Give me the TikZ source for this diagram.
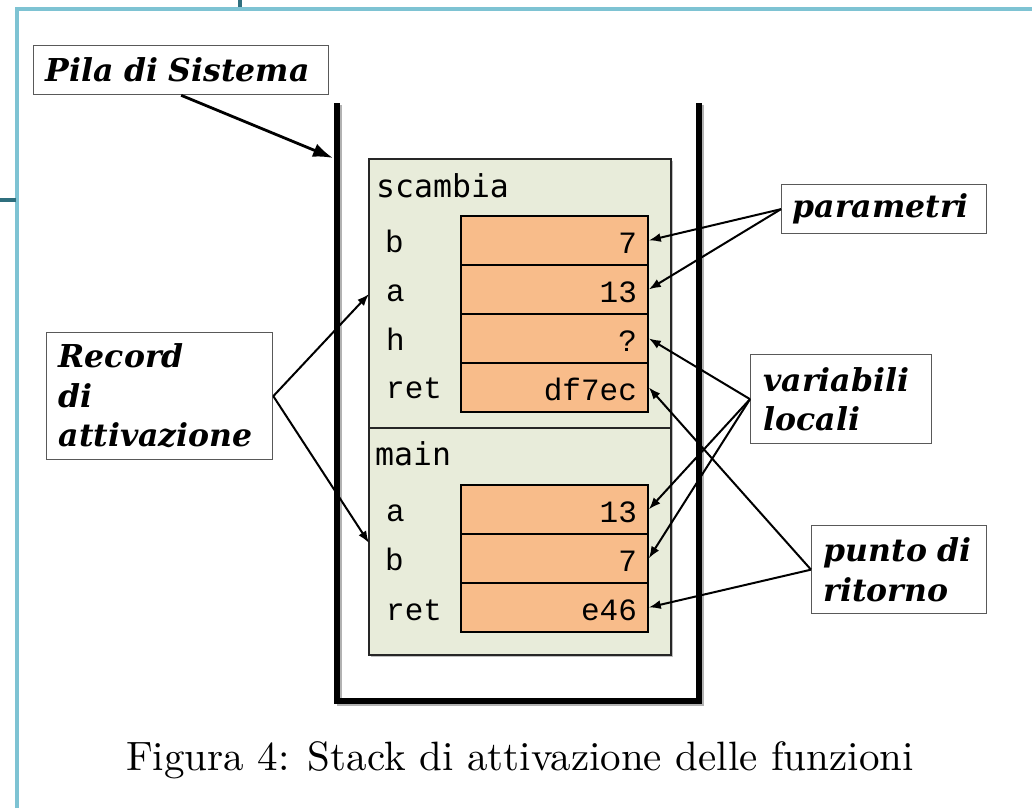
\documentclass[tikz,border=0pt]{standalone}
\usepackage{fontspec}
\newfontfamily\callfont{DejaVu Serif}
\newfontfamily\codefont{Liberation Mono}
\newfontfamily\headfont{DejaVu Sans Mono}
\newfontfamily\capfont{lmroman10-regular.otf}
\usetikzlibrary{arrows.meta}
\definecolor{framecol}{HTML}{7EC3D3}
\definecolor{tickcol}{HTML}{2F6F7E}
\definecolor{recfill}{HTML}{E8ECDA}
\definecolor{cellfill}{HTML}{F8BC8A}
\begin{document}
\begin{tikzpicture}[x=1pt,y=-1pt,
  callout/.style={draw=black!65, line width=1.3pt, fill=white, anchor=north west,
    inner ysep=0pt, align=left,
    font=\callfont\bfseries\itshape\fontsize{31.5}{39.5}\selectfont},
  recframe/.style={draw=black!85, line width=1.6pt, fill=recfill, anchor=north west, inner sep=0pt},
  cell/.style={draw=black, line width=1.8pt, fill=cellfill, anchor=north west,
    minimum height=49pt, text width=165pt, inner xsep=11pt, inner ysep=0pt,
    align=right, text height=26pt, text depth=0pt,
    font=\codefont\fontsize{31}{31}\selectfont},
  varname/.style={anchor=base west, inner sep=0pt, font=\codefont\fontsize{31}{31}\selectfont},
  head/.style={anchor=base west, inner sep=0pt, font=\headfont\fontsize{31.5}{31.5}\selectfont},
  stackwall/.style={line width=5.5pt, line join=miter},
  thinarrow/.style={line width=2pt, -{Latex[length=12pt,width=9pt]}},
  bigarrow/.style={line width=2.8pt, -{Latex[length=20pt,width=14pt]}},
]
\useasboundingbox (0,0) rectangle (1032,808);

% page frame and its marks
\draw[framecol, line width=3.6pt] (17,808) -- (17,9) -- (1032,9);
\draw[tickcol, line width=4pt] (240,0) -- (240,7.5);
\draw[tickcol, line width=4pt] (0,200) -- (15.5,200);

% activation records (with a soft shadow)
\fill[black!25] (371,161) rectangle (673,657);
\node[recframe, minimum width=302pt, minimum height=269pt] (fs) at (368,158) {};
\node[recframe, minimum width=302pt, minimum height=227pt] (fm) at (368,427) {};

% the stack walls
\draw[stackwall, black!30] (339.5,105) -- (339.5,703.5) -- (701.5,703.5) -- (701.5,105);
\draw[stackwall] (337,103) -- (337,701) -- (699,701) -- (699,103);

% record "scambia"
\node[head] (hs) at (376,197) {scambia};
\node[cell] (s1) at (460,215) {7};
\node[cell] (s2) at (460,264) {13};
\node[cell] (s3) at (460,313) {?};
\node[cell] (s4) at (460,362) {df7ec};
\node[varname] (ls1) at (385,252) {b};
\node[varname] (ls2) at (386,301) {a};
\node[varname] (ls3) at (386,350) {h};
\node[varname] (ls4) at (386,398) {ret};

% record "main"
\node[head] (hm) at (375,465) {main};
\node[cell] (m1) at (460,484) {13};
\node[cell] (m2) at (460,533) {7};
\node[cell] (m3) at (460,582) {e46};
\node[varname] (lm1) at (386,521) {a};
\node[varname] (lm2) at (385,570) {b};
\node[varname] (lm3) at (386,620) {ret};

% callouts
\node[callout, inner xsep=12pt, text width=271pt, minimum height=49pt] (pila) at (33,45) {\raisebox{-2pt}{Pila di Sistema}};
\node[callout, inner xsep=12pt, text width=202pt, minimum height=127pt] (rec) at (46,332) {Record\\di\\attivazione};
\node[callout, inner xsep=11pt, text width=183pt, minimum height=49pt] (par) at (781,184) {parametri};
\node[callout, inner xsep=13pt, text width=155pt, minimum height=89pt] (var) at (750,354) {variabili\\locali};
\node[callout, inner xsep=12pt, text width=151pt, minimum height=88pt] (pun) at (811,525) {punto di\\ritorno};

% arrow targets on the record frames
\coordinate (recS) at (369,294);
\coordinate (recM) at (369,543);
\coordinate (wallhit) at (333,158);

% connectors
\draw[bigarrow] (pila.south) -- (wallhit);
\draw[thinarrow] (rec.east) -- (recS);
\draw[thinarrow] (rec.east) -- (recM);
\draw[thinarrow] (par.west) -- (s1.east);
\draw[thinarrow] (par.west) -- (s2.east);
\draw[thinarrow] (var.west) -- (s3.east);
\draw[thinarrow] (var.west) -- (m1.east);
\draw[thinarrow] (var.west) -- (m2.east);
\draw[thinarrow] (pun.west) -- (s4.east);
\draw[thinarrow] (pun.west) -- (m3.east);

% caption
\node[anchor=base, inner sep=0pt, font=\capfont\fontsize{41}{47}\selectfont] (cap) at (520,770)
  {Figura 4: Stack di attivazione delle funzioni};
\end{tikzpicture}
\end{document}
